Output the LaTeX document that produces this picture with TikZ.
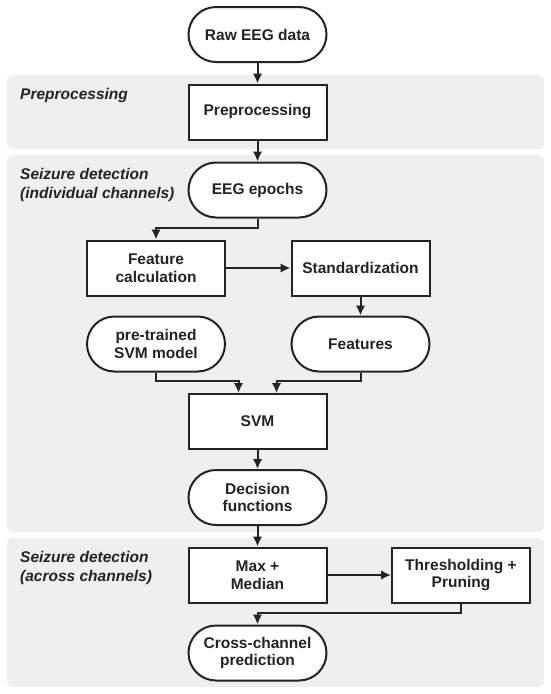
\documentclass[tikz,border=0pt]{standalone}
\usepackage{fontspec}
\setmainfont{Liberation Sans}
\usetikzlibrary{arrows.meta}
\definecolor{ink}{HTML}{232323}
\definecolor{bandgray}{HTML}{EFEFEF}

\begin{document}
\begin{tikzpicture}[x=1pt, y=1pt,
        box/.style={draw=ink, line width=2pt, fill=white, text=ink, minimum width=138pt, minimum height=55pt, align=center, font=\bfseries\fontsize{15.5}{17.5}\selectfont},
        term/.style={box, rounded corners=27.5pt},
        band/.style={fill=bandgray, rounded corners=6pt},
        lab/.style={anchor=north west, inner sep=0pt, align=left, text=ink, font=\bfseries\itshape\fontsize{15.5}{19}\selectfont},
        arr/.style={draw=ink, line width=2pt, -{Latex[length=10pt, width=9.5pt]}}]
            \useasboundingbox (0,0) rectangle (550,-694);
            % Stages
            \fill[band] (7,-75) rectangle (544,-149);
            \fill[band] (7,-155) rectangle (544,-532);
            \fill[band] (7,-538) rectangle (544,-687);
            \node[lab] (labpre) at (20,-88.5) {Preprocessing};
            \node[lab] (labind) at (20,-168) {Seizure detection\\(individual channels)};
            \node[lab] (labacr) at (20,-551) {Seizure detection\\(across channels)};
            % Steps
            \node[term] (raw) at (257.5,-34.5) {Raw EEG data};
            \node[box] (pre) at (257.5,-112) {Preprocessing};
            \node[term] (epochs) at (257.5,-190) {EEG epochs};
            \node[box] (feat) at (156,-268) {Feature\\calculation};
            \node[box] (std) at (360.5,-268) {Standardization};
            \node[term] (model) at (156,-344) {pre-trained\\SVM model};
            \node[term] (features) at (360.5,-344) {Features};
            \node[box] (svm) at (257.5,-421.5) {SVM};
            \node[term] (dec) at (257.5,-497.5) {Decision\\functions};
            \node[box] (maxmed) at (257.5,-575) {Max +\\Median};
            \node[box] (thr) at (461,-575) {Thresholding +\\Pruning};
            \node[term] (cross) at (257.5,-653) {Cross-channel\\prediction};
            % Flow
            \draw[arr] (raw) -- (pre);
            \draw[arr] (pre) -- (epochs);
            \draw[arr] (epochs.south) -- ++(0,-9) -| (feat);
            \draw[arr] (feat) -- (std);
            \draw[arr] (std) -- (features);
            \draw[arr] (model.south) -- ++(0,-8) -| ([xshift=-19pt]svm.north);
            \draw[arr] (features.south) -- ++(0,-8) -| ([xshift=19pt]svm.north);
            \draw[arr] (svm) -- (dec);
            \draw[arr] (dec) -- (maxmed);
            \draw[arr] (maxmed) -- (thr);
            \draw[arr] (thr.south) -- ++(0,-9) -| (cross);
        \end{tikzpicture}
\end{document}
